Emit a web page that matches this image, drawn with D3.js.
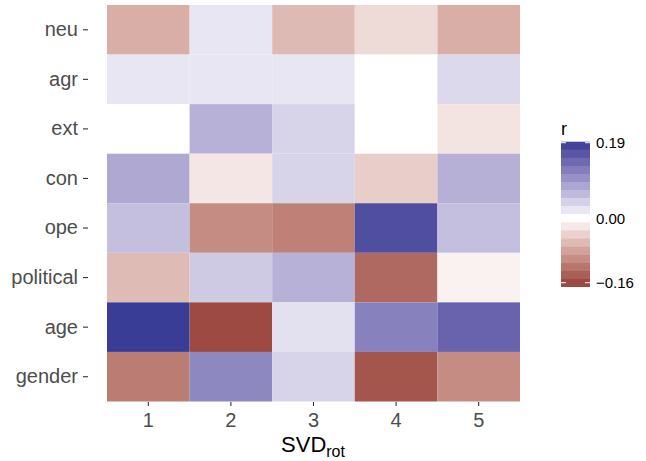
<!DOCTYPE html>
<html>
<head>
<meta charset="utf-8">
<script src="https://cdn.jsdelivr.net/npm/d3@7"></script>
<style>
  body { margin: 0; background: #fff; }
  text { font-family: "Liberation Sans", Arial, sans-serif; }
</style>
</head>
<body>
<svg width="646" height="461"></svg>
<script>
// rows (top to bottom) and SVD components
const rowNames = ['neu', 'agr', 'ext', 'con', 'ope', 'political', 'age', 'gender'];
const components = ['1', '2', '3', '4', '5'];

// correlations r, one array per row, components 1..5
const neu       = [-0.070,  0.022, -0.059, -0.031, -0.070];
const agr       = [ 0.022,  0.022,  0.022,  0.000,  0.034];
const ext       = [ 0.000,  0.071,  0.039,  0.000, -0.023];
const con       = [ 0.080, -0.021,  0.039, -0.043,  0.072];
const ope       = [ 0.058, -0.100, -0.111,  0.171,  0.058];
const political = [-0.058,  0.048,  0.071, -0.132, -0.011];
const age       = [ 0.190, -0.160,  0.027,  0.118,  0.149];
const gender    = [-0.115,  0.111,  0.039, -0.149, -0.100];

const legendBreaks = [-0.16, 0.00, 0.19];
const legendLabels = ['\u22120.16', '0.00', '0.19'];

const rowValues = { neu, agr, ext, con, ope, political, age, gender };

const cells = [];
rowNames.forEach(r => {
  rowValues[r].forEach((v, i) => cells.push({ row: r, comp: components[i], value: v }));
});

const svg = d3.select('svg');

const x = d3.scaleBand().domain(components).range([107, 520]);
const y = d3.scaleBand().domain(rowNames).range([5, 401.5]);

const color = d3.scaleLinear()
  .domain([-0.16, 0, 0.19])
  .range(['#9c4a42', '#ffffff', '#3a3d95'])
  .interpolate(d3.interpolateLab);

// tiles
svg.append('g')
  .selectAll('rect')
  .data(cells)
  .join('rect')
    .attr('x', d => x(d.comp))
    .attr('y', d => y(d.row))
    .attr('width', x.bandwidth())
    .attr('height', y.bandwidth())
    .attr('fill', d => color(d.value));

// y axis
const yAxis = svg.append('g')
  .attr('transform', 'translate(88,0)')
  .call(d3.axisLeft(y).tickSize(5).tickPadding(5));
yAxis.select('.domain').remove();
yAxis.selectAll('line').attr('stroke', '#333').attr('stroke-width', 1.1);
yAxis.selectAll('text').attr('fill', '#4d4d4d').style('font-size', '20px')
  .style('font-family', '"Liberation Sans", Arial, sans-serif');

// x axis
const xAxis = svg.append('g')
  .attr('transform', 'translate(0,402)')
  .call(d3.axisBottom(x).tickSize(4).tickPadding(7));
xAxis.select('.domain').remove();
xAxis.selectAll('line').attr('stroke', '#333').attr('stroke-width', 1.1);
xAxis.selectAll('text').attr('fill', '#4d4d4d').style('font-size', '20px')
  .style('font-family', '"Liberation Sans", Arial, sans-serif');

// x title SVD_rot
const xt = svg.append('text')
  .attr('x', 313)
  .attr('y', 452)
  .attr('text-anchor', 'middle')
  .attr('fill', '#000')
  .style('font-size', '22px');
xt.append('tspan').text('SVD');
xt.append('tspan').attr('dy', 5).style('font-size', '16px').text('rot');

// legend
const yL = d3.scaleLinear().domain([-0.16, 0.19]).range([282.7, 142.7]);
const barTop = 141.7, barBottom = 286.7, nbin = 18;
const binH = (barBottom - barTop) / nbin;
const bins = d3.range(nbin).map(i => yL.invert(barTop + (i + 0.5) * binH));

const legend = svg.append('g');
legend.selectAll('rect')
  .data(bins)
  .join('rect')
    .attr('x', 561)
    .attr('y', (d, i) => barTop + i * binH)
    .attr('width', 29)
    .attr('height', binH + 0.3)
    .attr('fill', d => color(d));

legend.selectAll('line.tl')
  .data(legendBreaks)
  .join('line')
    .attr('class', 'tl')
    .attr('x1', 561).attr('x2', 566)
    .attr('y1', d => yL(d)).attr('y2', d => yL(d))
    .attr('stroke', '#fff').attr('stroke-width', 1);
legend.selectAll('line.tr')
  .data(legendBreaks)
  .join('line')
    .attr('class', 'tr')
    .attr('x1', 585).attr('x2', 590)
    .attr('y1', d => yL(d)).attr('y2', d => yL(d))
    .attr('stroke', '#fff').attr('stroke-width', 1);

legend.selectAll('text.lab')
  .data(legendBreaks)
  .join('text')
    .attr('class', 'lab')
    .attr('x', 596)
    .attr('y', d => yL(d))
    .attr('dy', '0.35em')
    .attr('fill', '#000')
    .style('font-size', '15px')
    .text((d, i) => legendLabels[i]);

legend.append('text')
  .attr('x', 561)
  .attr('y', 135)
  .attr('fill', '#000')
  .style('font-size', '18px')
  .text('r');
</script>
</body>
</html>
